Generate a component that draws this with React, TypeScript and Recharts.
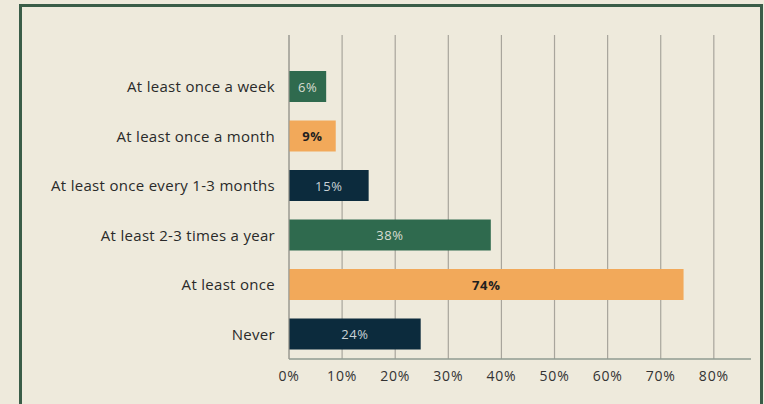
import React from 'react';
import { BarChart, Bar, XAxis, YAxis, CartesianGrid, Cell, LabelList } from 'recharts';

const categories = [
  'At least once a week',
  'At least once a month',
  'At least once every 1-3 months',
  'At least 2-3 times a year',
  'At least once',
  'Never',
];
// bar lengths as drawn, and the printed labels
const values = [7, 8.8, 15, 38, 74.3, 24.8];
const valueLabels = ['6%', '9%', '15%', '38%', '74%', '24%'];
const barColors = ['#2f6a4e', '#f2a95a', '#0c2b3d', '#2f6a4e', '#f2a95a', '#0c2b3d'];
const labelColors = ['#d9ddd2', '#1f1f1f', '#c9d1d6', '#d9ddd2', '#1f1f1f', '#c9d1d6'];
const labelWeights = [400, 700, 400, 400, 700, 400];
const xTicks = [0, 10, 20, 30, 40, 50, 60, 70, 80];
const xMax = 87;

const data = categories.map((name, i) => ({ name, value: values[i], label: valueLabels[i] }));

const FONT = '"Open Sans", Lato, sans-serif';

const BarLabel = (props: any) => {
  const { x, y, width, height, index } = props;
  return (
    <text
      x={x + width / 2}
      y={y + height / 2}
      textAnchor="middle"
      dominantBaseline="central"
      fontFamily={FONT}
      fontSize={13}
      letterSpacing={0.6}
      fontWeight={labelWeights[index]}
      fill={labelColors[index]}
    >
      {valueLabels[index]}
    </text>
  );
};

export default function App() {
  return (
    <div style={{ position: 'absolute', left: 0, top: 0, width: 764, height: 404, background: '#eeeadc', overflow: 'hidden' }}>
      <div
        style={{
          position: 'absolute',
          left: 19,
          top: 4,
          width: 738,
          height: 420,
          borderLeft: '3px solid #3a5d48',
          borderRight: '3px solid #3a5d48',
          borderTop: '3px solid #3a5d48',
        }}
      />
      <div style={{ position: 'absolute', left: 0, top: 0 }}>
        <BarChart
          width={764}
          height={404}
          data={data}
          layout="vertical"
          margin={{ top: 35, right: 13, bottom: 19, left: 0 }}
          barSize={31}
        >
          <CartesianGrid
            horizontal={false}
            stroke="#a8a59c"
            strokeWidth={1.2}
            verticalCoordinatesGenerator={({ offset }: any) =>
              xTicks.map((t) => offset.left + (t / xMax) * offset.width)
            }
          />
          <XAxis
            type="number"
            domain={[0, xMax]}
            ticks={xTicks}
            height={26}
            tickFormatter={(v: number) => `${v}%`}
            axisLine={{ stroke: '#8f9b92', strokeWidth: 1.5 }}
            tickLine={false}
            tick={{ fontFamily: FONT, fontSize: 14, fill: '#333', letterSpacing: 0.8 }}
            tickMargin={6}
          />
          <YAxis
            type="category"
            dataKey="name"
            width={289}
            padding={{ top: 27, bottom: 0 }}
            axisLine={{ stroke: '#9a9a92' }}
            tickLine={false}
            tick={{ fontFamily: FONT, fontSize: 15, fill: '#2a2a2a', letterSpacing: 0.3 }}
            tickMargin={8}
          />
          <Bar dataKey="value" isAnimationActive={false}>
            {data.map((d, i) => (
              <Cell key={`c-${i}`} fill={barColors[i]} />
            ))}
            <LabelList dataKey="label" content={<BarLabel />} />
          </Bar>
        </BarChart>
      </div>
    </div>
  );
}
